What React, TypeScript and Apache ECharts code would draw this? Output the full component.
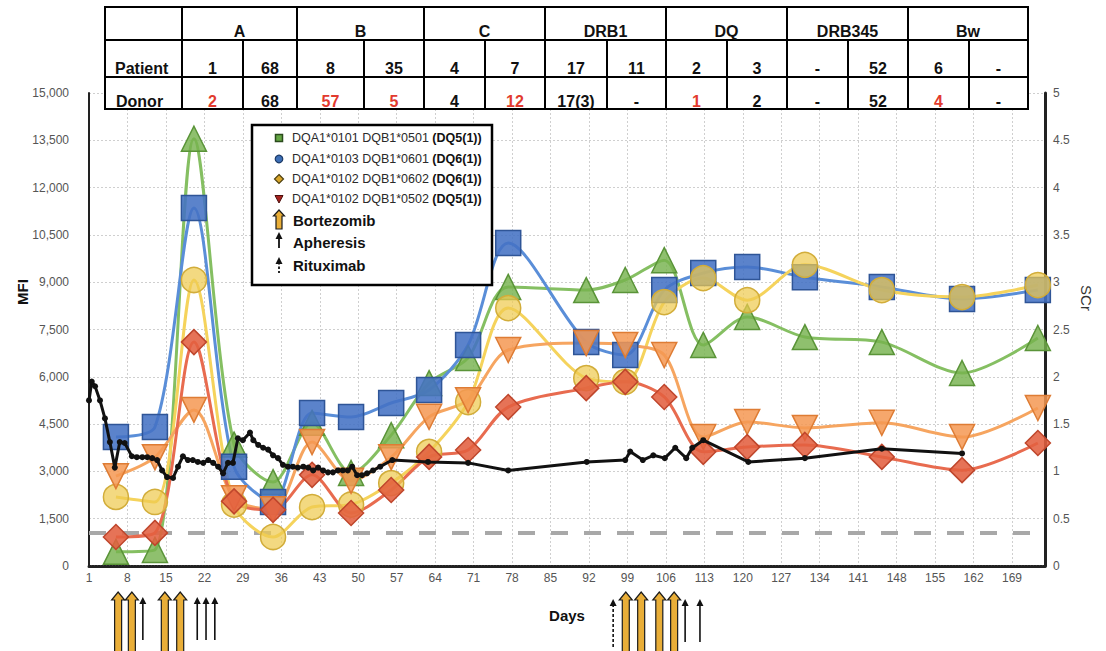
import React, { useEffect, useRef } from 'react';
import * as echarts from 'echarts';

// ---------- data ----------
const xTickDays = [1, 8, 15, 22, 29, 36, 43, 50, 57, 64, 71, 78, 85, 92, 99, 106, 113, 120, 127, 134, 141, 148, 155, 162, 169];

const sampleDays = [5.9, 13, 20.1, 27.4, 34.5, 41.6, 48.7, 56, 62.9, 70, 77.3, 91.5, 98.6, 105.7, 112.8, 120.8, 131.3, 145.3, 159.9, 173.7];

const seriesNames = [
  'DQA1*0101 DQB1*0501 (DQ5(1))',
  'DQA1*0103 DQB1*0601 (DQ6(1))',
  'DQA1*0102 DQB1*0602 (DQ6(1))',
  'DQA1*0102 DQB1*0502 (DQ5(1))',
];
const orangeName = 'DQ (unlabelled)';

const greenMFI = [450, 510, 13550, 3850, 2660, 4540, 2950, 4150, 5800, 6600, 8850, 8750, 9070, 9700, 7010, 7900, 7260, 7100, 6120, 7230];
const blueMFI = [4090, 4408, 11350, 3150, 2030, 4850, 4725, 5170, 5580, 7010, 10240, 7100, 6690, 8750, 9290, 9480, 9160, 8850, 8470, 8750];
const yellowMFI = [2190, 2030, 9070, 1950, 920, 1870, 1950, 2630, 3620, 5200, 8180, 5960, 5840, 8370, 9130, 8430, 9550, 8750, 8530, 8910];
const orangeMFI = [2850, 3450, 4950, 2150, 1800, 3930, 2700, 3450, 4730, 5260, 6850, 7070, 7010, 6690, 4090, 4570, 4380, 4540, 4090, 5010];
const redMFI = [920, 1050, 7100, 2050, 1780, 2890, 1680, 2410, 3460, 3680, 5040, 5640, 5840, 5360, 3620, 3770, 3840, 3460, 3040, 3900];

const scrDays = [1.0, 1.5, 2.1, 3.0, 3.9, 4.8, 5.7, 6.6, 7.5, 8.8, 9.7, 10.7, 11.6, 12.5, 13.4, 14.3, 15.2, 16.3, 17.2, 18.1, 19.0, 19.9, 20.8, 21.8, 22.7, 23.6, 24.5, 25.4, 26.3, 27.2, 28.1, 29.0, 30.3, 30.9, 31.8, 32.7, 33.6, 34.5, 35.4, 36.3, 37.2, 38.1, 39.0, 40.0, 40.9, 41.8, 42.7, 43.6, 44.5, 45.4, 46.3, 47.2, 48.1, 48.9, 49.8, 50.7, 51.6, 52.7, 54.0, 56.2, 62.7, 70.0, 77.3, 91.6, 98.6, 99.5, 101.8, 103.7, 105.8, 107.7, 109.7, 110.8, 112.8, 121.0, 131.3, 145.3, 159.9];
const scrValues = [1.75, 1.95, 1.9, 1.75, 1.56, 1.31, 1.04, 1.31, 1.3, 1.16, 1.15, 1.15, 1.15, 1.14, 1.12, 1.01, 0.94, 0.93, 1.05, 1.16, 1.12, 1.12, 1.1, 1.09, 1.12, 1.09, 1.05, 0.98, 1.09, 1.09, 1.35, 1.33, 1.41, 1.33, 1.28, 1.25, 1.23, 1.17, 1.14, 1.07, 1.05, 1.05, 1.04, 1.05, 1.04, 1.01, 1.04, 1.01, 0.99, 0.99, 1.01, 1.01, 1.01, 1.05, 0.96, 0.96, 0.98, 1.01, 1.05, 1.12, 1.1, 1.09, 1.01, 1.1, 1.12, 1.21, 1.12, 1.17, 1.14, 1.25, 1.14, 1.25, 1.33, 1.1, 1.14, 1.24, 1.19];

const mfiCutoff = 1050;

const bortezomibDays = [6.3, 8.8, 14.8, 17.6, 98.7, 101.5, 104.8, 107.5];
const apheresisDays = [10.8, 20.7, 22.3, 23.9, 109.5, 112.2];
const rituximabDays = [96.4];

const hlaLoci = ['A', 'B', 'C', 'DRB1', 'DQ', 'DRB345', 'Bw'];
const patientAlleles = ['1', '68', '8', '35', '4', '7', '17', '11', '2', '3', '-', '52', '6', '-'];
const donorAlleles = ['2', '68', '57', '5', '4', '12', '17(3)', '-', '1', '2', '-', '52', '4', '-'];
const donorMismatch = [true, false, true, true, false, true, false, false, true, false, false, false, true, false];

const treatmentNames = ['Bortezomib', 'Apheresis', 'Rituximab'];

// ---------- styling ----------
const FONT = '"Liberation Sans", Arial, sans-serif';
const styles = {
  green: { line: '#85bf62', fill: 'rgba(118,178,78,0.82)', border: '#5a9438', symbol: 'triangle', rotate: 0 },
  blue: { line: '#5a8ed8', fill: 'rgba(68,114,196,0.88)', border: '#2f5597', symbol: 'rect', rotate: 0 },
  yellow: { line: '#f5d35c', fill: 'rgba(238,203,80,0.72)', border: '#d2ad3a', symbol: 'circle', rotate: 0 },
  orange: { line: '#f6a560', fill: 'rgba(245,152,82,0.85)', border: '#de7c34', symbol: 'triangle', rotate: 180 },
  red: { line: '#e86b4f', fill: 'rgba(226,96,64,0.88)', border: '#bf462c', symbol: 'diamond', rotate: 0 },
};

function markerSeries(name: string, values: number[], st: any, z: number, extra: any = {}) {
  return {
    type: 'line',
    name,
    xAxisIndex: 0,
    yAxisIndex: 0,
    data: sampleDays.map((d, i) => [d, values[i]]),
    smooth: 0.3,
    symbol: st.symbol,
    symbolRotate: st.rotate,
    symbolSize: 25,
    showAllSymbol: true,
    lineStyle: { color: st.line, width: 3 },
    itemStyle: { color: st.fill, borderColor: st.border, borderWidth: 1.5 },
    z,
    ...extra,
  };
}

function arrowSeries(name: string, days: number[], kind: string) {
  return {
    type: 'custom',
    name,
    coordinateSystem: 'cartesian2d',
    xAxisIndex: 0,
    yAxisIndex: 0,
    clip: false,
    silent: true,
    z: 10,
    data: days.map((d) => [d, 0]),
    renderItem: (params: any, api: any) => {
      const x = api.coord([api.value(0), 0])[0];
      const late = api.value(0) > 60;
      if (kind === 'bortezomib') {
        return {
          type: 'polygon',
          shape: {
            points: [
              [x - 3.5, 662], [x - 3.5, 600], [x - 6.5, 600], [x, 592],
              [x + 6.5, 600], [x + 3.5, 600], [x + 3.5, 662],
            ],
          },
          style: { fill: '#e9ae38', stroke: '#1c1c1c', lineWidth: 1.2 },
        };
      }
      const top = late ? 599 : 597;
      const bottom = kind === 'rituximab' ? 649 : late ? 642 : 640;
      return {
        type: 'group',
        children: [
          {
            type: 'line',
            shape: { x1: x, y1: top + 5, x2: x, y2: bottom },
            style: { stroke: '#111', lineWidth: 1.6, lineDash: kind === 'rituximab' ? [3, 2] : null },
          },
          {
            type: 'polygon',
            shape: { points: [[x - 3.5, top + 7], [x, top], [x + 3.5, top + 7]] },
            style: { fill: '#111' },
          },
        ],
      };
    },
  };
}

function buildGraphics() {
  const g: any[] = [];
  const Z = 100;
  // ---- table ----
  const colEdges = [182, 243, 297, 364, 424, 485, 545, 607, 666, 727, 787, 848, 908, 969, 1028];
  const left = 105;
  const rowEdges = [7, 40, 77, 109];
  const tFont = { fontFamily: FONT, fontSize: 16, fontWeight: 'bold' };
  g.push({ type: 'rect', z: Z, shape: { x: left, y: rowEdges[0], width: colEdges[colEdges.length - 1] - left, height: rowEdges[3] - rowEdges[0] }, style: { fill: '#fff', stroke: '#000', lineWidth: 2 } });
  [rowEdges[1], rowEdges[2]].forEach((y) => {
    g.push({ type: 'line', z: Z, shape: { x1: left, y1: y, x2: colEdges[colEdges.length - 1], y2: y }, style: { stroke: '#000', lineWidth: 2 } });
  });
  colEdges.slice(0, -1).forEach((x, i) => {
    const isGroup = i % 2 === 0;
    g.push({ type: 'line', z: Z, shape: { x1: x, y1: isGroup ? rowEdges[0] : rowEdges[1], x2: x, y2: rowEdges[3] }, style: { stroke: '#000', lineWidth: 2 } });
  });
  hlaLoci.forEach((loc, i) => {
    const cx = (colEdges[2 * i] + colEdges[2 * i + 2]) / 2;
    g.push({ type: 'text', z: Z + 1, x: cx, y: 31, style: { text: loc, align: 'center', verticalAlign: 'middle', fill: '#111', ...tFont } });
  });
  g.push({ type: 'text', z: Z + 1, x: 115, y: 68, style: { text: 'Patient', align: 'left', verticalAlign: 'middle', fill: '#111', ...tFont } });
  g.push({ type: 'text', z: Z + 1, x: 116, y: 101, style: { text: 'Donor', align: 'left', verticalAlign: 'middle', fill: '#111', ...tFont } });
  patientAlleles.forEach((a, j) => {
    const cx = (colEdges[j] + colEdges[j + 1]) / 2;
    g.push({ type: 'text', z: Z + 1, x: cx, y: 68, style: { text: a, align: 'center', verticalAlign: 'middle', fill: '#111', ...tFont } });
  });
  donorAlleles.forEach((a, j) => {
    const cx = (colEdges[j] + colEdges[j + 1]) / 2;
    g.push({ type: 'text', z: Z + 1, x: cx, y: 101, style: { text: a, align: 'center', verticalAlign: 'middle', fill: donorMismatch[j] ? '#e23a2e' : '#111', ...tFont } });
  });

  // ---- legend box ----
  g.push({ type: 'rect', z: Z, shape: { x: 252, y: 125, width: 240, height: 160 }, style: { fill: '#fff', stroke: '#000', lineWidth: 2.5 } });
  const mx = 279;
  const rows = [138, 159, 179, 199];
  g.push({ type: 'rect', z: Z + 1, shape: { x: mx - 3.5, y: rows[0] - 3.5, width: 7, height: 7 }, style: { fill: '#64a643', stroke: '#2a4a1c', lineWidth: 1.5 } });
  g.push({ type: 'circle', z: Z + 1, shape: { cx: mx, cy: rows[1], r: 3.8 }, style: { fill: '#3d6fb6', stroke: '#1c3a66', lineWidth: 1.2 } });
  g.push({ type: 'polygon', z: Z + 1, shape: { points: [[mx, rows[2] - 4.5], [mx + 4.5, rows[2]], [mx, rows[2] + 4.5], [mx - 4.5, rows[2]]] }, style: { fill: '#d8a52a', stroke: '#4e4010', lineWidth: 1.2 } });
  g.push({ type: 'polygon', z: Z + 1, shape: { points: [[mx - 4, rows[3] - 3.5], [mx + 4, rows[3] - 3.5], [mx, rows[3] + 4]] }, style: { fill: '#a5221e', stroke: '#4a0e0c', lineWidth: 1 } });
  seriesNames.forEach((nm, i) => {
    const k = nm.indexOf(' (');
    const a = nm.slice(0, k);
    const b = nm.slice(k + 1);
    g.push({
      type: 'text', z: Z + 1, x: 292, y: rows[i],
      style: {
        text: `{n|${a} }{b|${b}}`, verticalAlign: 'middle', align: 'left',
        rich: {
          n: { fontFamily: FONT, fontSize: 12.5, fill: '#2a2a2a' },
          b: { fontFamily: FONT, fontSize: 12.5, fontWeight: 'bold', fill: '#111' },
        },
      },
    });
  });
  // arrows in legend
  g.push({ type: 'polygon', z: Z + 1, shape: { points: [[mx - 3, 229], [mx - 3, 216], [mx - 5.5, 216], [mx, 210], [mx + 5.5, 216], [mx + 3, 216], [mx + 3, 229]] }, style: { fill: '#e9ae38', stroke: '#1c1c1c', lineWidth: 1.2 } });
  g.push({ type: 'line', z: Z + 1, shape: { x1: mx, y1: 237, x2: mx, y2: 248 }, style: { stroke: '#111', lineWidth: 1.8 } });
  g.push({ type: 'polygon', z: Z + 1, shape: { points: [[mx - 3.5, 239], [mx, 232], [mx + 3.5, 239]] }, style: { fill: '#111' } });
  g.push({ type: 'line', z: Z + 1, shape: { x1: mx, y1: 262, x2: mx, y2: 273 }, style: { stroke: '#111', lineWidth: 1.8, lineDash: [2.5, 2] } });
  g.push({ type: 'polygon', z: Z + 1, shape: { points: [[mx - 3.5, 264], [mx, 257], [mx + 3.5, 264]] }, style: { fill: '#111' } });
  [220, 242, 265].forEach((y, i) => {
    g.push({ type: 'text', z: Z + 1, x: 293, y, style: { text: treatmentNames[i], align: 'left', verticalAlign: 'middle', fontFamily: FONT, fontSize: 15, fontWeight: 'bold', fill: '#111' } });
  });

  // ---- axis titles ----
  g.push({ type: 'text', z: Z, x: 22, y: 292, rotation: Math.PI / 2, style: { text: 'MFI', align: 'center', verticalAlign: 'middle', fontFamily: FONT, fontSize: 15, fontWeight: 'bold', fill: '#111' } });
  g.push({ type: 'text', z: Z, x: 1086, y: 298, rotation: -Math.PI / 2, style: { text: 'SCr', align: 'center', verticalAlign: 'middle', fontFamily: FONT, fontSize: 15, fill: '#333' } });
  return g;
}

export default function App() {
  const ref = useRef<HTMLDivElement>(null);
  useEffect(() => {
    if (!ref.current) return;
    const chart = echarts.init(ref.current, null, { renderer: 'svg' });
    const labelStyle = { color: '#555', fontSize: 12, fontFamily: FONT };
    const option: any = {
      animation: false,
      backgroundColor: '#fff',
      textStyle: { fontFamily: FONT },
      grid: { left: 89, right: 61, top: 93, bottom: 85, containLabel: false },
      xAxis: {
        type: 'value',
        min: 1,
        max: 175,
        name: 'Days',
        nameLocation: 'middle',
        nameGap: 42,
        nameTextStyle: { fontFamily: FONT, fontSize: 15, fontWeight: 'bold', color: '#111' },
        axisLine: { show: true, lineStyle: { color: '#222', width: 3, type: [2, 1] } },
        axisTick: { show: false, customValues: xTickDays },
        axisLabel: { ...labelStyle, margin: 6, customValues: xTickDays, showMinLabel: true },
        splitLine: { show: true, lineStyle: { color: '#cfcfcf', width: 1, type: [2, 2] } },
      },
      yAxis: [
        {
          type: 'value',
          min: 0,
          max: 15000,
          interval: 1500,
          position: 'left',
          axisLine: { show: true, lineStyle: { color: '#222', width: 2 } },
          axisTick: { show: false },
          axisLabel: { ...labelStyle, margin: 20, formatter: (v: number) => v.toLocaleString('en-US') },
          splitLine: { show: true, lineStyle: { color: '#cfcfcf', width: 1, type: [2, 2] } },
        },
        {
          type: 'value',
          min: 0,
          max: 5,
          interval: 0.5,
          position: 'right',
          axisLine: { show: true, lineStyle: { color: '#222', width: 3 } },
          axisTick: { show: false },
          axisLabel: { ...labelStyle, margin: 8 },
          splitLine: { show: false },
        },
      ],
      series: [
        markerSeries(seriesNames[0], greenMFI, styles.green, 2, {
          markLine: {
            silent: true,
            symbol: ['none', 'none'],
            label: { show: false },
            lineStyle: { color: '#a8a8a8', width: 4, type: [17, 16] },
            data: [{ yAxis: mfiCutoff }],
            z: 1,
          },
        }),
        markerSeries(seriesNames[1], blueMFI, styles.blue, 2),
        markerSeries(seriesNames[2], yellowMFI, styles.yellow, 2),
        markerSeries(orangeName, orangeMFI, styles.orange, 2),
        markerSeries(seriesNames[3], redMFI, styles.red, 2),
        {
          type: 'line',
          name: 'SCr',
          yAxisIndex: 1,
          data: scrDays.map((d, i) => [d, scrValues[i]]),
          symbol: 'circle',
          symbolSize: 6,
          showAllSymbol: true,
          lineStyle: { color: '#111', width: 3 },
          itemStyle: { color: '#111' },
          z: 4,
        },
        arrowSeries(treatmentNames[0], bortezomibDays, 'bortezomib'),
        arrowSeries(treatmentNames[1], apheresisDays, 'apheresis'),
        arrowSeries(treatmentNames[2], rituximabDays, 'rituximab'),
      ],
      graphic: buildGraphics(),
    };
    chart.setOption(option);
    return () => chart.dispose();
  }, []);
  return <div ref={ref} style={{ position: 'absolute', left: 0, top: 0, width: 1106, height: 651 }} />;
}
